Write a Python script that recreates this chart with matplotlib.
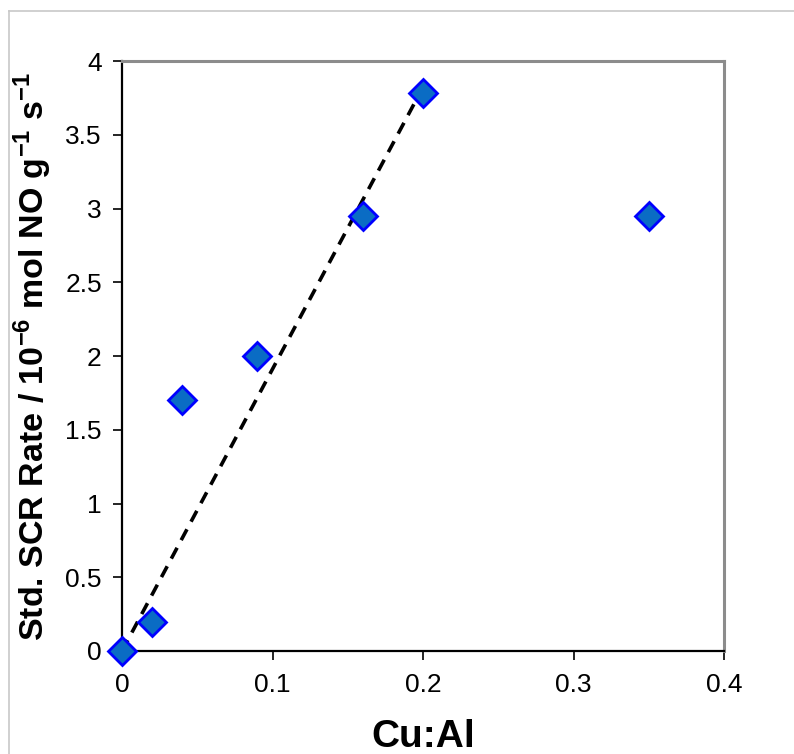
import matplotlib as mpl
mpl.use('Agg')
import matplotlib.pyplot as plt
from matplotlib.lines import Line2D

# data
cu_al = [0.0, 0.02, 0.04, 0.09, 0.16, 0.20, 0.35]
scr_rate = [0.0, 0.2, 1.7, 2.0, 2.95, 3.78, 2.95]

# linear trend (dashed)
trend_x = [0.0, 0.203]
trend_y = [0.0, 3.88]

x_ticks = [0, 0.1, 0.2, 0.3, 0.4]
x_tick_labels = ['0', '0.1', '0.2', '0.3', '0.4']
y_ticks = [0, 0.5, 1, 1.5, 2, 2.5, 3, 3.5, 4]
y_tick_labels = ['0', '0.5', '1', '1.5', '2', '2.5', '3', '3.5', '4']

plt.rcParams['font.family'] = ['Liberation Sans', 'DejaVu Sans']
plt.rcParams['mathtext.fontset'] = 'custom'
plt.rcParams['mathtext.rm'] = 'Liberation Sans:bold'
plt.rcParams['mathtext.bf'] = 'Liberation Sans:bold'

fig = plt.figure(figsize=(7.94, 7.54), dpi=100)
ax = fig.add_axes([122 / 794, 1 - 651 / 754, (724 - 122) / 794, (651 - 61) / 754])

ax.plot(trend_x, trend_y, color='black', lw=2.6, linestyle=(0, (3.4, 2.4)), zorder=2)
ax.plot(cu_al, scr_rate, linestyle='none', marker='D', markersize=14.5,
        markerfacecolor='#0a6cc4', markeredgecolor='#0000ff', markeredgewidth=2.0,
        clip_on=False, zorder=3)

ax.set_xlim(0, 0.4)
ax.set_ylim(0, 4)
ax.set_xticks(x_ticks)
ax.set_xticklabels(x_tick_labels)
ax.set_yticks(y_ticks)
ax.set_yticklabels(y_tick_labels)
ax.tick_params(axis='both', direction='out', length=6.5, width=1.2, labelsize=19, colors='black')
ax.tick_params(axis='x', pad=9)
ax.tick_params(axis='y', pad=8)

for side in ['left', 'bottom']:
    ax.spines[side].set_color('black')
    ax.spines[side].set_linewidth(1.6)
for side in ['top', 'right']:
    ax.spines[side].set_color('#8c8c8c')
    ax.spines[side].set_linewidth(2.2)

ax.set_xlabel('Cu:Al', fontsize=28, fontweight='bold', labelpad=16)
ax.set_ylabel(r'Std. SCR Rate / 10$^{-6}$ mol NO g$^{-1}$ s$^{-1}$',
              fontsize=24.5, fontweight='bold', labelpad=8)

# thin outer frame of the picture
fig.add_artist(Line2D([9 / 794, 1.0], [1 - 11 / 754, 1 - 11 / 754], color='#c8c8c8', lw=1.2))
fig.add_artist(Line2D([9 / 794, 9 / 794], [0.0, 1 - 11 / 754], color='#c8c8c8', lw=1.2))

fig.savefig('out.png', dpi=100)
